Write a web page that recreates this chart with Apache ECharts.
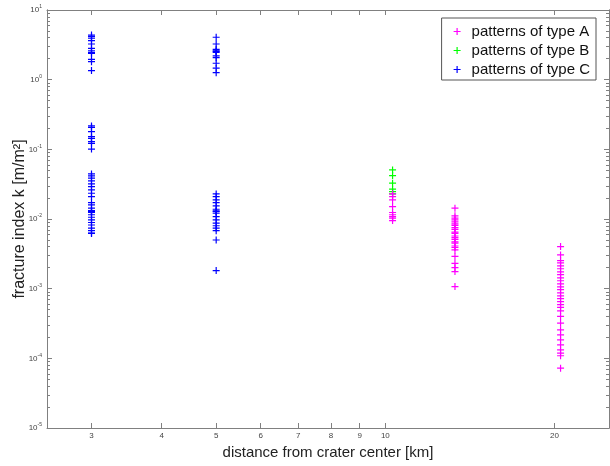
<!DOCTYPE html>
<html>
<head>
<meta charset="utf-8">
<script src="https://cdn.jsdelivr.net/npm/echarts@6/dist/echarts.min.js"></script>
<style>
  html, body { margin: 0; padding: 0; background: #fff; }
  #chart { width: 610px; height: 466px; }
</style>
</head>
<body>
<div id="chart"></div>
<script>
// distances of the measured columns [km]
const distC1 = 3, distC2 = 5, distAB = 10.3, distA2 = 13.3, distA3 = 20.5

// type C, blue
const cAt3 = [4.37, 4.14, 3.93, 3.63, 3.25, 2.82, 2.6, 2.47, 2.39, 1.96, 1.81, 1.35,
  0.217, 0.207, 0.179, 0.152, 0.144, 0.129, 0.122, 0.101,
  0.0444, 0.0415, 0.0385, 0.0352, 0.0319, 0.0292, 0.0262, 0.0234, 0.021, 0.0172,
  0.0159, 0.0143, 0.0132, 0.0128, 0.0124, 0.0115, 0.0106, 0.0097, 0.0089, 0.0082,
  0.0074, 0.0068, 0.0063, 0.0062]
const cAt5 = [4.06, 3.25, 2.73, 2.6, 2.55, 2.47, 2.19, 2.07, 1.72, 1.46, 1.26,
  0.0229, 0.021, 0.0188, 0.0172, 0.0154, 0.0138, 0.0131, 0.0128, 0.0121, 0.0108,
  0.0097, 0.0087, 0.008, 0.0074, 0.0068, 0.005, 0.00182]
// type B, green
const bAt10 = [0.0506, 0.042, 0.0327, 0.0268, 0.0247, 0.0229]
// type A, magenta
const aAt10 = [0.0229, 0.021, 0.0188, 0.0151, 0.0124, 0.0115, 0.0108, 0.0103, 0.0095]
const aAt13 = [0.0143, 0.0111, 0.0103, 0.0097, 0.0091, 0.0085, 0.0081, 0.0075, 0.0071,
  0.0065, 0.0062, 0.0057, 0.0054, 0.0051, 0.0047, 0.0045, 0.0041, 0.0039, 0.0036,
  0.0029, 0.0023, 0.002, 0.00176, 0.00107]
const aAt20 = [0.00402, 0.00305, 0.00253, 0.00234, 0.00212, 0.00193, 0.00174, 0.00159,
  0.00143, 0.0013, 0.00117, 0.00106, 0.00097, 0.00087, 0.00079, 0.00072, 0.00065,
  0.00059, 0.00054, 0.00048, 0.0004, 0.00032, 0.000256, 0.000217, 0.000184,
  0.000156, 0.000132, 0.000119, 0.000109, 0.0000723]

const xTicks = [3, 4, 5, 6, 7, 8, 9, 10, 20]
const yTicks = [1e-5, 1e-4, 1e-3, 1e-2, 1e-1, 1, 10]
const yMinorTicks = []
for (let e = -5; e < 1; e++) {
  for (let m = 2; m <= 9; m++) yMinorTicks.push(m * Math.pow(10, e))
}

const plus = 'path://M-0.17,-1h0.34v0.83h0.83v0.34h-0.83v0.83h-0.34v-0.83h-0.83v-0.34h0.83z'
const axisGrey = '#808080'

function pts(x, ys) {
  return ys.map(y => [x, y])
}

function yAxisOf(pos, values, len, labels) {
  return {
    type: 'log', min: 1e-5, max: 10, position: pos,
    axisLine: { show: true, lineStyle: { color: axisGrey } },
    axisTick: { show: true, inside: true, length: len, customValues: values, lineStyle: { color: axisGrey } },
    axisLabel: labels ? {
      customValues: yTicks, margin: 5, color: '#444',
      formatter: v => '{b|10}{e|' + Math.round(Math.log10(v)) + '}',
      rich: { b: { fontSize: 8, fontFamily: 'Liberation Sans' }, e: { fontSize: 5, fontFamily: 'Liberation Sans', padding: [0, 0, 6, 0] } }
    } : { show: false },
    splitLine: { show: false }
  }
}

function xAxisOf(pos, labels) {
  return {
    type: 'log', min: 2.5, max: 25, position: pos,
    axisLine: { show: true, lineStyle: { color: axisGrey } },
    axisTick: { show: true, inside: true, length: 5, customValues: xTicks, lineStyle: { color: axisGrey } },
    axisLabel: labels ? { customValues: xTicks, fontSize: 8, color: '#444', margin: 4, fontFamily: 'Liberation Sans' } : { show: false },
    splitLine: { show: false }
  }
}

const chart = echarts.init(document.getElementById('chart'))
const xBottom = xAxisOf('bottom', true)
xBottom.name = 'distance from crater center [km]'
xBottom.nameLocation = 'middle'
xBottom.nameGap = 17
xBottom.nameMoveOverlap = false
xBottom.nameTextStyle = { fontSize: 15, color: '#222', fontFamily: 'Liberation Sans' }
const yLeft = yAxisOf('left', yTicks, 5, true)
yLeft.name = 'fracture index k [m/m²]'
yLeft.nameLocation = 'middle'
yLeft.nameGap = 19
yLeft.nameMoveOverlap = false
yLeft.nameTextStyle = { fontSize: 16, color: '#222', fontFamily: 'Liberation Sans' }

const option = {
  animation: false,
  grid: { left: 47, right: 1, top: 10, bottom: 38, outerBoundsMode: 'none' },
  legend: {
    orient: 'vertical', right: 14, top: 18,
    backgroundColor: '#fff', borderColor: '#555', borderWidth: 1,
    padding: [5, 6, 2, 12], itemGap: 2, itemWidth: 7, itemHeight: 7,
    textStyle: { fontSize: 15, lineHeight: 17, color: '#111', fontFamily: 'Liberation Sans', padding: [0, 0, 0, 6] },
    data: ['patterns of type A', 'patterns of type B', 'patterns of type C']
  },
  xAxis: [xBottom, xAxisOf('top', false)],
  yAxis: [yLeft, yAxisOf('left', yMinorTicks, 3, false),
    yAxisOf('right', yTicks, 5, false), yAxisOf('right', yMinorTicks, 3, false)],
  series: [
    {
      name: 'patterns of type C', type: 'scatter', symbol: plus, symbolSize: 7,
      itemStyle: { color: '#0000ff', opacity: 1 },
      data: pts(distC1, cAt3).concat(pts(distC2, cAt5))
    },
    {
      name: 'patterns of type B', type: 'scatter', symbol: plus, symbolSize: 7,
      itemStyle: { color: '#00ff00', opacity: 1 },
      data: pts(distAB, bAt10)
    },
    {
      name: 'patterns of type A', type: 'scatter', symbol: plus, symbolSize: 7,
      itemStyle: { color: '#ff00ff', opacity: 1 },
      data: pts(distAB, aAt10).concat(pts(distA2, aAt13), pts(distA3, aAt20))
    }
  ]
}
chart.setOption(option)
</script>
</body>
</html>
